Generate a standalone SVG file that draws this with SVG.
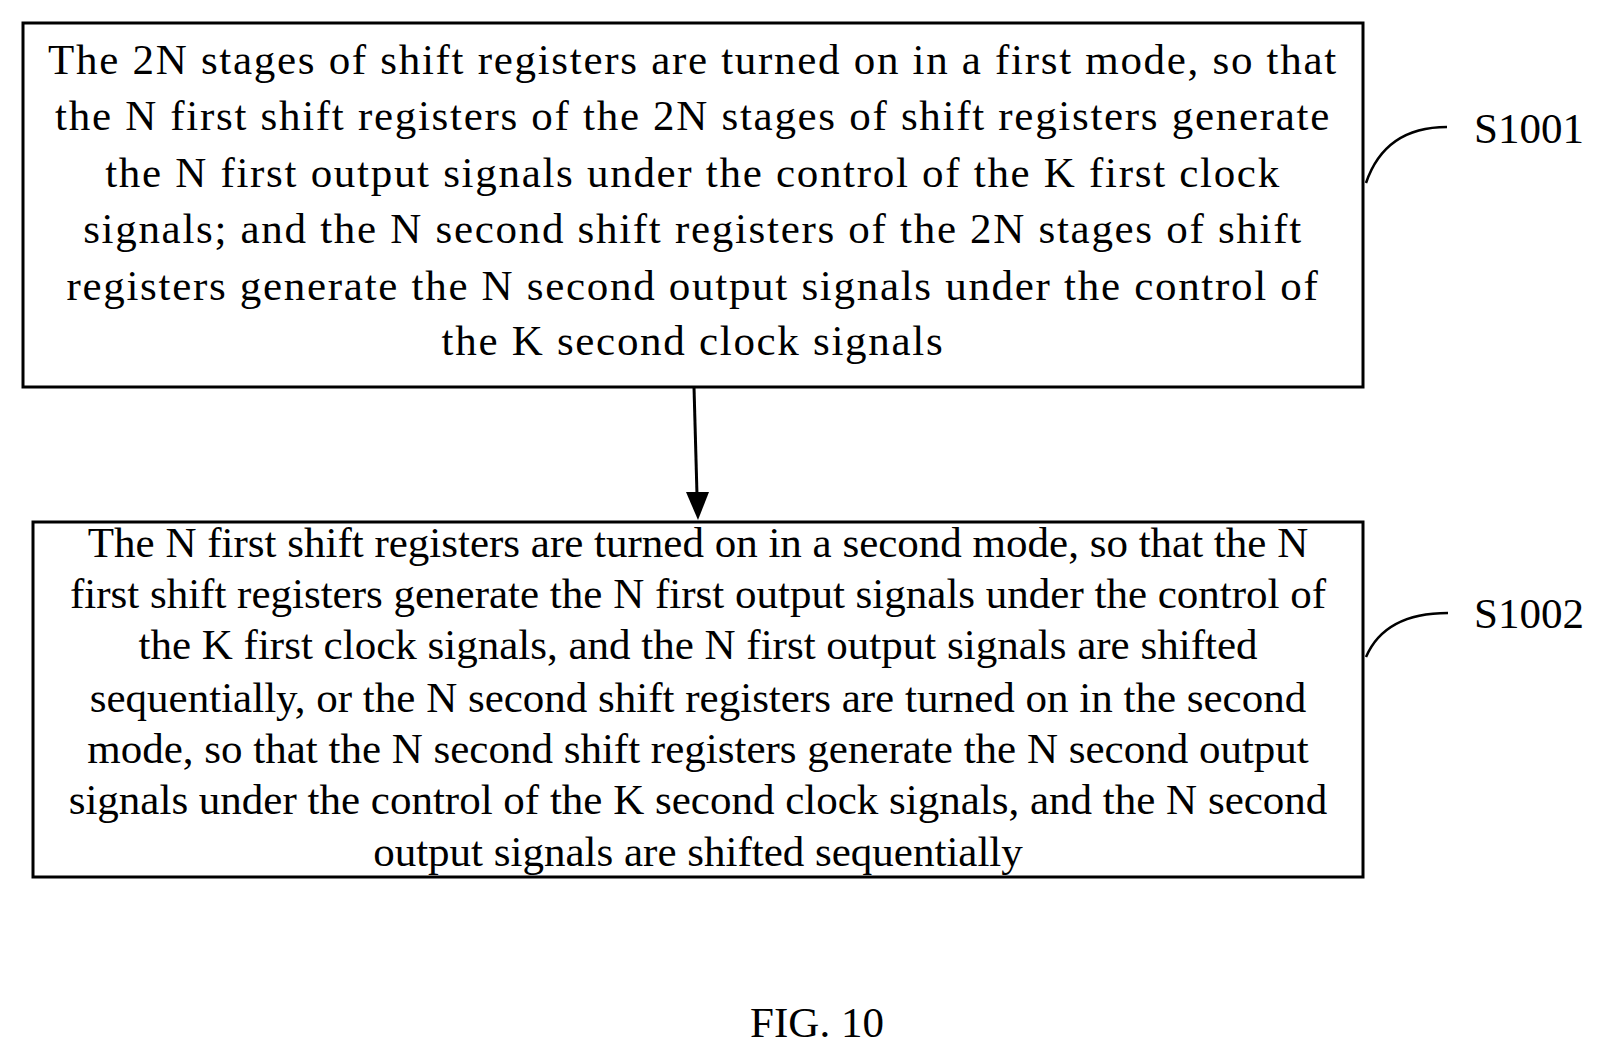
<svg xmlns="http://www.w3.org/2000/svg" width="1611" height="1059" viewBox="0 0 1611 1059">
<style>
text{font-family:"Liberation Serif","Times New Roman",serif;font-size:43px;fill:#000;text-anchor:middle}
.wide{letter-spacing:1.7px}
.box{fill:#fff;stroke:#000;stroke-width:3}
.lead{fill:none;stroke:#000;stroke-width:2.5}
.lbl{text-anchor:start}
</style>
<rect width="1611" height="1059" fill="#fff"/>
<g id="node-s1001">
<rect class="box" x="23" y="23" width="1340" height="364"/>
<text class="wide" x="693" y="74">The 2N stages of shift registers are turned on in a first mode, so that</text>
<text class="wide" x="693" y="130">the N first shift registers of the 2N stages of shift registers generate</text>
<text class="wide" x="693" y="187">the N first output signals under the control of the K first clock</text>
<text class="wide" x="693" y="243">signals; and the N second shift registers of the 2N stages of shift</text>
<text class="wide" x="693" y="300">registers generate the N second output signals under the control of</text>
<text class="wide" x="693" y="355">the K second clock signals</text>
</g>
<g id="node-s1002">
<rect class="box" x="33" y="522" width="1330" height="355"/>
<text x="698" y="557">The N first shift registers are turned on in a second mode, so that the N</text>
<text x="698" y="608">first shift registers generate the N first output signals under the control of</text>
<text x="698" y="659">the K first clock signals, and the N first output signals are shifted</text>
<text x="698" y="712">sequentially, or the N second shift registers are turned on in the second</text>
<text x="698" y="763">mode, so that the N second shift registers generate the N second output</text>
<text x="698" y="814">signals under the control of the K second clock signals, and the N second</text>
<text x="698" y="866">output signals are shifted sequentially</text>
</g>
<g id="labels">
<path class="lead" d="M1366,183 Q1385,127 1447,127"/>
<text class="lbl" x="1474" y="143">S1001</text>
<path class="lead" d="M1366,657 Q1385,613 1448,613"/>
<text class="lbl" x="1474" y="628">S1002</text>
<text x="817" y="1037">FIG. 10</text>
</g>
<g id="connectors">
<line x1="694" y1="387" x2="697" y2="495" stroke="#000" stroke-width="3"/>
<polygon points="686,492 709,492 698,520" fill="#000"/>
</g>
</svg>
